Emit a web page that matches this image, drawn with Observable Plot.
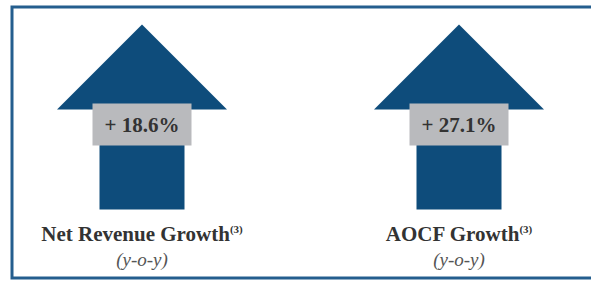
<!DOCTYPE html>
<html>
<head>
<meta charset="utf-8">
<script src="https://cdn.jsdelivr.net/npm/d3@7"></script>
<script src="https://cdn.jsdelivr.net/npm/@observablehq/plot@0.6"></script>
<style>
  html, body { margin: 0; padding: 0; background: #fff; }
  #chart { width: 591px; height: 282px; overflow: hidden; }
</style>
</head>
<body>
<div id="chart"></div>
<script>
// ---- data ----
const categories = ["Net Revenue Growth", "AOCF Growth"];
const growth = [18.6, 27.1];
const footnotes = ["(3)", "(3)"];
const periodLabel = ["(y-o-y)", "(y-o-y)"];

const rows = categories.map((c, i) => ({
  category: c,
  growth: growth[i],
  footnote: footnotes[i],
  period: periodLabel[i]
}));

// ---- styles ----
const blue = "#0e4c7b";
const gray = "#b9babd";
const ink = "#333333";
const serif = "'Liberation Serif', 'Times New Roman', serif";

// arrow glyph (head + shaft), drawn relative to the dot centre
const arrowSymbol = {
  draw(ctx) {
    ctx.moveTo(0, -117);
    ctx.lineTo(85, -32);
    ctx.lineTo(-85, -32);
    ctx.closePath();
    ctx.rect(-42.5, -36, 85, 104);
  }
};
const boxSymbol = {
  draw(ctx) {
    ctx.rect(-49.5, -38, 99, 42);
  }
};

const chart = Plot.plot({
  width: 591,
  height: 282,
  margin: 0,
  x: {type: "band", domain: categories, range: [-17.25, 617.75], padding: 0, axis: null},
  style: {background: "#fff", overflow: "visible"},
  marks: [
    Plot.frame({stroke: "#245e8e", strokeWidth: 3, insetLeft: 11.5, insetTop: 6.5, insetBottom: 4.5, insetRight: -6}),
    Plot.dot(rows, {x: "category", symbol: arrowSymbol, r: 1, fill: blue}),
    Plot.dot(rows, {x: "category", symbol: boxSymbol, r: 1, fill: gray}),
    Plot.text(rows, {
      x: "category",
      text: d => `+ ${d.growth.toFixed(1)}%`,
      dy: -16,
      fontSize: 21,
      fontWeight: "bold",
      fontFamily: serif,
      fill: ink
    }),
    Plot.text(rows, {
      x: "category",
      text: d => d.category + "\u200B" + d.footnote,
      dy: 93,
      fontSize: 21,
      fontWeight: "bold",
      fontFamily: serif,
      fill: ink
    }),
    Plot.text(rows, {
      x: "category",
      text: "period",
      dy: 118,
      fontSize: 19,
      fontStyle: "italic",
      fontFamily: serif,
      fill: "#555"
    })
  ]
});

// turn the footnote marker into a real superscript tspan
d3.select(chart).selectAll("text").each(function () {
  const t = this.textContent;
  const i = t.indexOf("\u200B");
  if (i < 0) return;
  const main = t.slice(0, i), sup = t.slice(i + 1);
  const el = d3.select(this);
  el.text(main);
  el.append("tspan").attr("dy", "-0.75em").attr("font-size", 11).text(sup);
});

document.getElementById("chart").append(chart);
</script>
</body>
</html>
